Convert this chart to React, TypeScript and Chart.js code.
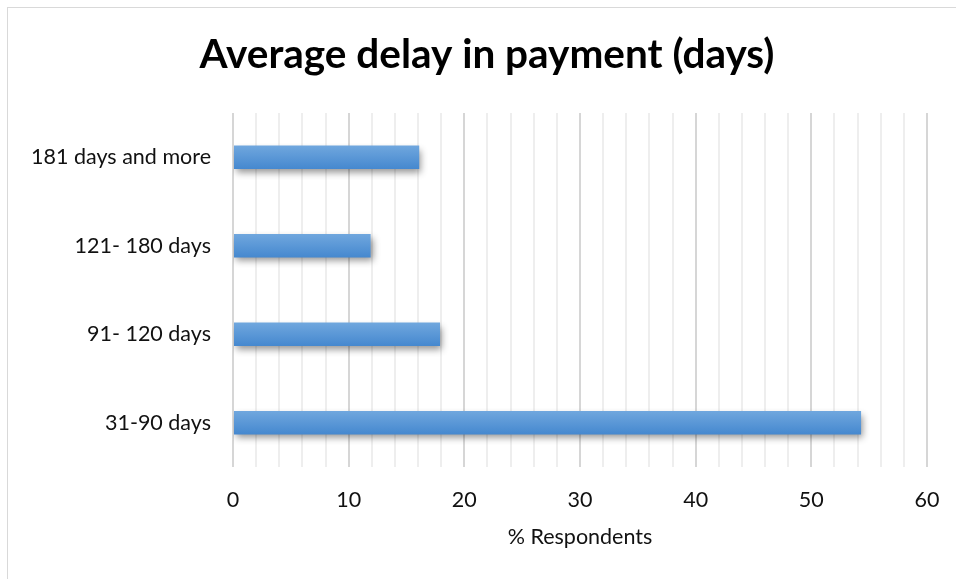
import React, { useEffect, useRef } from "react";
import { Chart, registerables } from "chart.js";

Chart.register(...registerables);

const categories = ["181 days and more", "121- 180 days", "91- 120 days", "31-90 days"];
const respondents = [16.1, 11.9, 17.9, 54.3];
const xTicksMin = 0;
const xTicksMax = 60;
const xMajorStep = 10;
const xMinorStep = 2;
const titleText = "Average delay in payment (days)";
const xTitleText = "% Respondents";

const FONT = "Lato, 'Open Sans', sans-serif";
const BAR_PCT = 0.265;
const CANVAS_W = 974;
const CANVAS_H = 579;

const framePlugin = {
  id: "frame",
  beforeDraw(chart: any) {
    const ctx = chart.ctx;
    ctx.save();
    ctx.fillStyle = "#ffffff";
    ctx.fillRect(0, 0, chart.width, chart.height);
    ctx.strokeStyle = "#d9d9d9";
    ctx.lineWidth = 1;
    ctx.strokeRect(7.5, 7.5, chart.width + 20, chart.height + 20);
    ctx.restore();
  },
};

const shadowPlugin = {
  id: "barShadow",
  beforeDatasetDraw(chart: any) {
    const ctx = chart.ctx;
    ctx.save();
    ctx.shadowColor = "rgba(0,0,0,0.42)";
    ctx.shadowBlur = 7;
    ctx.shadowOffsetX = 2;
    ctx.shadowOffsetY = 4;
  },
  afterDatasetDraw(chart: any) {
    chart.ctx.restore();
  },
};

export default function App() {
  const canvasRef = useRef<HTMLCanvasElement | null>(null);

  useEffect(() => {
    const canvas = canvasRef.current;
    if (!canvas) return;
    const chart = new Chart(canvas, {
      type: "bar",
      data: {
        labels: categories,
        datasets: [
          {
            label: xTitleText,
            data: respondents,
            backgroundColor: (c: any) => {
              const yScale = c.chart.scales?.y;
              if (!yScale || c.dataIndex === undefined) return "#5b9bd5";
              const center = yScale.getPixelForValue(c.dataIndex);
              const half = ((yScale.height / categories.length) * BAR_PCT) / 2;
              if (!isFinite(center) || !isFinite(half) || half <= 0) return "#5b9bd5";
              const g = c.chart.ctx.createLinearGradient(0, center - half, 0, center + half);
              g.addColorStop(0, "#70a7de");
              g.addColorStop(1, "#4588cf");
              return g;
            },
            borderWidth: 0,
            categoryPercentage: 1,
            barPercentage: BAR_PCT,
          },
        ],
      },
      options: {
        indexAxis: "y",
        animation: false,
        responsive: false,
        maintainAspectRatio: false,
        layout: { padding: 0 },
        plugins: {
          legend: { display: false },
          tooltip: { enabled: false },
          title: {
            display: true,
            text: titleText,
            color: "#000000",
            font: { family: FONT, size: 40.5, weight: "bold", lineHeight: 1.2 },
            padding: { top: 31, bottom: 33.4 },
          },
        },
        scales: {
          x: {
            type: "linear",
            min: xTicksMin,
            max: xTicksMax,
            afterFit: (scale: any) => {
              scale.height = 112;
            },
            ticks: {
              stepSize: xMinorStep,
              autoSkip: false,
              maxRotation: 0,
              padding: 20,
              color: "#111111",
              font: { family: FONT, size: 21.5 },
              callback: (v: any) => (Number(v) % xMajorStep === 0 ? String(v) : ""),
            },
            grid: {
              drawTicks: false,
              color: (c: any) => (c.tick && c.tick.value % xMajorStep === 0 ? "#d6d6d6" : "#eeeeee"),
              lineWidth: 2,
            },
            border: { display: false },
            title: {
              display: true,
              text: xTitleText,
              color: "#111111",
              font: { family: FONT, size: 21.5 },
              padding: { top: 0, bottom: 29 },
            },
          },
          y: {
            afterFit: (scale: any) => {
              scale.width = 233;
            },
            ticks: {
              padding: 22,
              color: "#111111",
              font: { family: FONT, size: 21.5 },
            },
            grid: { display: false, drawTicks: false },
            border: { display: false },
          },
          yRight: {
            type: "linear",
            position: "right",
            display: true,
            afterFit: (scale: any) => {
              scale.width = CANVAS_W - 927;
            },
            ticks: { display: false },
            grid: { display: false, drawTicks: false },
            border: { display: false },
          },
        },
      },
      plugins: [framePlugin, shadowPlugin],
    } as any);
    chart.update();
    return () => chart.destroy();
  }, []);

  return (
    <div style={{ position: "fixed", left: 0, top: 0, width: CANVAS_W, height: CANVAS_H }}>
      <canvas ref={canvasRef} width={CANVAS_W} height={CANVAS_H} style={{ display: "block" }} />
    </div>
  );
}
